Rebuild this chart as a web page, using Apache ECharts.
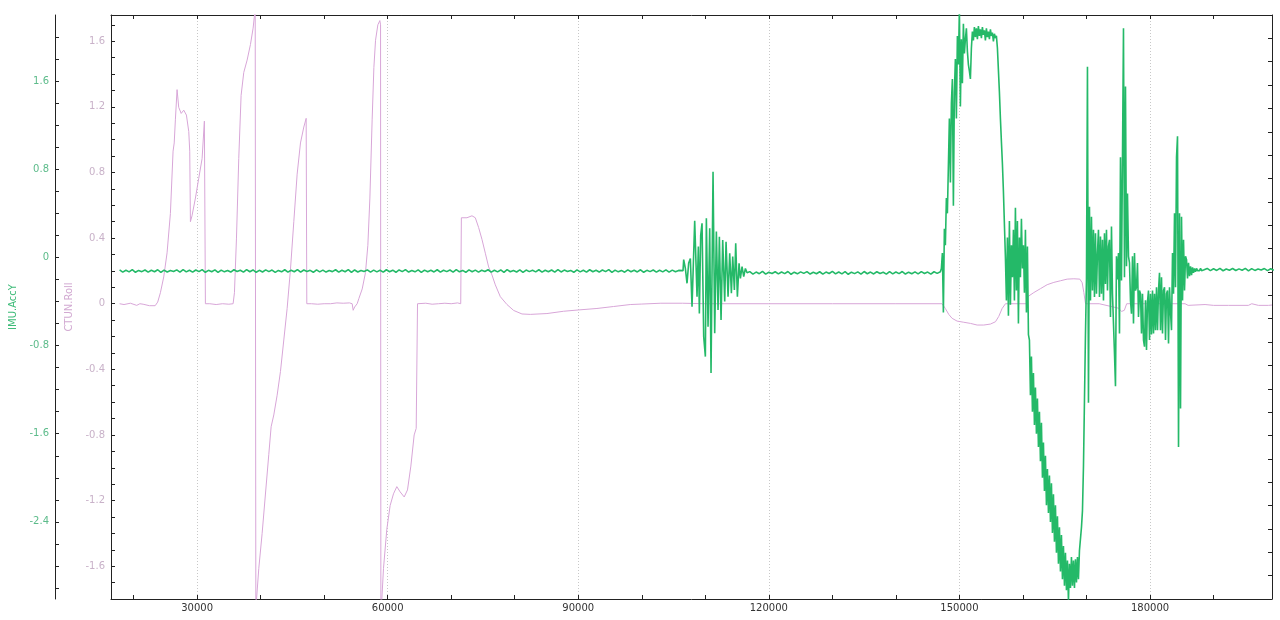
<!DOCTYPE html>
<html>
<head>
<meta charset="utf-8">
<script src="https://cdn.jsdelivr.net/npm/echarts@6/dist/echarts.min.js"></script>
<style>
html,body{margin:0;padding:0;background:#fff;}
#chart{width:1280px;height:620px;}
</style>
</head>
<body>
<div id="chart"></div>
<script>
// ---------- time axis ----------
const timeMin = 16450;
const timeMax = 199200;
const timeLabelEvery = 30000;

// ---------- CTUN.Roll : [time, value] ----------
const rollEarly = [
  [17800,0],[18500,-0.005],[19500,0.003],[20500,-0.01],[21000,0],[21500,-0.003],[22500,-0.012],[23400,-0.012],
  [23800,0.01],[24225,0.067],[24750,0.163],[25275,0.31],[25800,0.55],[26220,0.93],[26400,0.98],[26590,1.125],
  [26850,1.305],[27110,1.197],[27500,1.16],[27900,1.18],[28320,1.15],[28690,1.05],[28845,0.93],[28950,0.5],
  [29200,0.536],[29740,0.644],[30260,0.764],[30790,0.885],[31150,1.113],[31310,0],[32000,0],[33000,-0.005],
  [34000,0],[35000,-0.003],[35670,0],[35880,0.067],[36200,0.4],[36560,0.885],[36930,1.27],[37350,1.41],
  [37875,1.485],[38400,1.58],[38820,1.68],[39150,1.8],[39250,-1.86],[39710,-1.615],[40240,-1.4],[40760,-1.16],
  [41290,-0.918],[41655,-0.75],[42075,-0.678],[42600,-0.558],[43125,-0.413],[43650,-0.221],[44175,-0.029],
  [44700,0.21],[45225,0.5],[45750,0.79],[46275,0.98],[46800,1.077],[47170,1.13],[47270,0]
];
const rollMid = [
  [48000,0],[49000,-0.003],[50000,0],[51000,0],[52000,0.005],[53000,0.003],[54000,0.005],[54410,0],
  [54570,-0.04],[54800,-0.02],[55200,0],[55460,0.031],[55990,0.09],[56510,0.19],[56880,0.356],[57200,0.644],
  [57560,1.125],[57830,1.44],[58090,1.606],[58455,1.7],[58770,1.726],[58880,1.7],[58930,-1.85],[59085,-1.8],
  [59340,-1.615],[59865,-1.375],[60390,-1.23],[60915,-1.159],[61440,-1.115],[61965,-1.147],[62600,-1.178],
  [63120,-1.135],[63650,-0.99],[64170,-0.8],[64490,-0.76],[64700,0],[65000,0],[66000,0.003],[67000,-0.003],
  [68000,0],[69000,0.003],[70000,0],[71000,0.005],[71500,0],[71600,0.524],[72480,0.524],[73270,0.536],
  [73795,0.524],[74320,0.464],[74845,0.392],[75370,0.308],[75895,0.224],[76420,0.175],[76945,0.115],
  [77730,0.043],[78780,-0.005],[79830,-0.041],[81140,-0.0625],[82450,-0.065],[85070,-0.06],[87690,-0.046],
  [90050,-0.038],[92940,-0.029],[95560,-0.017],[98180,-0.005],[100000,-0.002],[103000,0.003],[106400,0.003],
  [106600,0]
];
const rollLate = [
  [110000,0],[120000,0],[130000,0],[140000,0],[147270,0],[147428,0],[147795,-0.03],[148320,-0.065],
  [148845,-0.089],[149633,-0.106],[150683,-0.113],[151733,-0.12],[152783,-0.13],[153833,-0.13],[154883,-0.124],
  [155670,-0.11],[156195,-0.077],[156720,-0.029],[157245,0],[160658,0],[160763,0.043],[161708,0.068],
  [162758,0.092],[163808,0.116],[164858,0.13],[165908,0.14],[166958,0.15],[168008,0.152],[168953,0.15],
  [169320,0.128],[169583,0.068],[169845,0],[172000,0],[175013,-0.027],[175538,-0.047],[175958,-0.04],
  [176325,0],[180000,0],[185513,0],[186000,-0.01],[188663,-0.005],[190000,-0.01],[192338,-0.01],
  [195488,-0.01],[196013,0],[197063,-0.01],[198638,-0.01],[199200,-0.008]
];

// ---------- IMU.AccY ----------
// quiet stretch 1: one sample every 500 ms from accQuiet1Start
const accQuiet1Start = 17800;
const accQuiet1 = [
  -0.113,-0.133,-0.116,-0.131,-0.111,-0.135,-0.118,-0.129,-0.114,-0.134,
  -0.117,-0.130,-0.112,-0.136,-0.115,-0.132,-0.119,-0.128,-0.113,-0.133,
  -0.110,-0.131,-0.116,-0.134,-0.114,-0.129,-0.111,-0.135,-0.117,-0.130,
  -0.113,-0.136,-0.115,-0.131,-0.118,-0.133,-0.112,-0.128,-0.116,-0.134,
  -0.111,-0.130,-0.114,-0.135,-0.117,-0.132,-0.113,-0.129,-0.115,-0.136,
  -0.118,-0.131,-0.112,-0.133,-0.116,-0.130,-0.110,-0.134,-0.114,-0.128,
  -0.117,-0.135,-0.113,-0.131,-0.115,-0.133,-0.119,-0.129,-0.112,-0.134,
  -0.116,-0.130,-0.111,-0.136,-0.114,-0.132,-0.118,-0.128,-0.113,-0.133,
  -0.115,-0.131,-0.117,-0.134,-0.112,-0.130,-0.116,-0.135,-0.114,-0.129,
  -0.111,-0.133,-0.118,-0.131,-0.113,-0.136,-0.115,-0.130,-0.117,-0.132,
  -0.112,-0.134,-0.116,-0.129,-0.114,-0.133,-0.110,-0.131,-0.118,-0.135,
  -0.113,-0.130,-0.115,-0.134,-0.117,-0.128,-0.112,-0.133,-0.116,-0.131,
  -0.114,-0.135,-0.111,-0.130,-0.118,-0.132,-0.113,-0.136,-0.115,-0.129,
  -0.117,-0.131,-0.112,-0.134,-0.116,-0.130,-0.114,-0.133,-0.110,-0.132,
  -0.115,-0.128,-0.118,-0.135,-0.113,-0.131,-0.116,-0.134,-0.112,-0.130,
  -0.117,-0.133,-0.114,-0.129,-0.111,-0.136,-0.115,-0.131,-0.118,-0.134,
  -0.113,-0.130,-0.116,-0.132,-0.112,-0.135,-0.117,-0.129,-0.114,-0.133,
  -0.116,-0.131,-0.113,-0.134,-0.115,-0.130,-0.118
];
// vibration burst: [time, value]
const accBurst1 = [
  [106070,-0.125],[106490,-0.12],[106595,-0.02],[106858,-0.1],[107120,-0.235],[107383,-0.05],[107645,-0.01],
  [107908,-0.447],[108328,0.333],[108695,-0.357],[108905,0.1],[109063,-0.508],[109273,0.2],[109483,0.31],
  [109745,-0.72],[110008,-0.9],[110165,0.355],[110428,-0.629],[110690,0.264],[110900,-1.05],[111215,0.778],
  [111478,-0.689],[111740,0.234],[112003,-0.477],[112213,0.188],[112475,-0.568],[112738,0.158],[113053,-0.4],
  [113263,0.143],[113578,-0.357],[113840,0.037],[114103,-0.326],[114313,0.007],[114575,-0.296],[114785,0.128],
  [115048,-0.357],[115310,-0.054],[115520,-0.19],[115783,-0.084],[116045,-0.175],[116308,-0.1],[116570,-0.14]
];
// quiet stretch 2: one sample every 500 ms
const accQuiet2Start = 117000;
const accQuiet2 = [
  -0.129,-0.151,-0.133,-0.148,-0.127,-0.152,-0.135,-0.146,-0.130,-0.150,
  -0.132,-0.147,-0.128,-0.153,-0.134,-0.149,-0.131,-0.145,-0.129,-0.151,
  -0.135,-0.148,-0.130,-0.152,-0.133,-0.146,-0.127,-0.150,-0.132,-0.149,
  -0.129,-0.153,-0.134,-0.147,-0.131,-0.151,-0.128,-0.148,-0.133,-0.150,
  -0.130,-0.146,-0.135,-0.152,-0.129,-0.149,-0.132,-0.147,-0.128,-0.151,
  -0.134,-0.148,-0.131,-0.150,-0.129,-0.146,-0.133,-0.152,-0.130,-0.145
];
// manoeuvre section, sampled every accManStep ms
const accManStart = 147000;
const accManStep = 157.5;
const accManoeuvre = [
  -0.13,-0.10,0.04,-0.50,0.26,0.11,0.54,0.40,0.83,1.26,
  0.68,1.40,1.62,0.47,1.50,1.80,1.26,2.01,1.75,2.25,
  1.37,1.98,1.58,2.12,1.85,1.98,2.08,1.87,1.75,1.69,
  1.62,1.90,2.05,1.97,2.09,2.00,2.08,1.98,2.10,2.01,
  2.07,1.99,2.09,2.02,2.06,1.97,2.08,2.00,2.05,1.98,
  2.07,2.01,2.04,1.96,2.03,1.99,2.01,1.90,1.70,1.50,
  1.26,1.05,0.85,0.60,0.30,0.00,-0.39,0.18,-0.53,0.33,
  -0.43,0.11,-0.18,0.25,-0.39,0.45,-0.30,0.33,-0.60,0.18,
  -0.18,0.35,-0.10,0.11,-0.32,0.25,-0.50,0.10,-0.70,-0.75,
  -1.25,-0.90,-1.40,-1.05,-1.52,-1.18,-1.60,-1.28,-1.72,-1.40,
  -1.85,-1.50,-2.00,-1.68,-2.12,-1.80,-2.25,-1.92,-2.32,-1.98,
  -2.40,-2.05,-2.50,-2.15,-2.58,-2.25,-2.68,-2.35,-2.78,-2.45,
  -2.85,-2.52,-2.92,-2.62,-2.98,-2.68,-3.02,-2.75,-3.12,-2.78,
  -3.00,-2.72,-2.98,-2.75,-3.00,-2.74,-2.95,-2.72,-2.92,-2.66,
  -2.65,-2.45,-2.30,-1.90,-1.30,-0.70,-0.20,1.73,-1.32,0.46,
  -0.39,0.37,-0.30,0.25,-0.36,0.22,-0.33,0.04,0.25,-0.36,
  0.19,-0.33,0.16,-0.39,0.22,-0.24,0.25,-0.30,0.10,0.16,
  -0.54,0.28,-0.33,-0.60,-0.87,-1.17,0.01,-0.20,0.04,-0.69,
  0.91,-0.21,0.91,2.08,-0.18,1.55,-0.08,0.58,0.01,-0.05,
  -0.39,-0.51,0.01,-0.60,0.04,-0.30,-0.27,-0.05,-0.54,-0.30,
  -0.33,-0.69,-0.33,-0.75,-0.81,-0.39,-0.84,-0.40,-0.30,-0.75,
  -0.33,-0.70,-0.30,-0.69,-0.33,-0.66,-0.27,-0.66,-0.30,-0.14,
  -0.66,-0.18,-0.69,-0.30,-0.27,-0.75,-0.33,-0.30,-0.78,-0.27,
  -0.50,-0.66,0.04,-0.33,0.40,-0.27,0.91,1.10,-1.72,0.40,
  -1.37,0.37,-0.39,0.16,-0.30,0.01,-0.02,-0.19,-0.05,-0.17,
  -0.08,-0.16,-0.09,-0.14,-0.10,-0.13,-0.10,-0.12,-0.11,-0.12,
  -0.10,-0.12,-0.11,-0.115,-0.105
];
// quiet tail: one sample every 500 ms
const accTailStart = 189000;
const accTail = [
  -0.100,-0.120,-0.103,-0.118,-0.099,-0.121,-0.105,-0.116,-0.101,-0.119,
  -0.104,-0.117,-0.100,-0.122,-0.102,-0.118,-0.106,-0.115,-0.101,-0.120,
  -0.103,-0.117
];

// ---------- build series data ----------
function stepped(start, step, vals) { return vals.map((v, i) => [start + i * step, v]); }
const rollData = rollEarly.concat(rollMid, rollLate);
const accData = stepped(accQuiet1Start, 500, accQuiet1)
  .concat(accBurst1, stepped(accQuiet2Start, 500, accQuiet2),
          stepped(accManStart, accManStep, accManoeuvre), stepped(accTailStart, 500, accTail));

const FONT = 'DejaVu Sans';
const PINK = '#d8a6d8';
const GREEN = '#24b968';
const AXIS = '#222';

const chart = echarts.init(document.getElementById('chart'), null, {renderer: 'canvas'});
chart.setOption({
  animation: false,
  backgroundColor: '#fff',
  grid: {left: 111, right: 8, top: 15, bottom: 21, containLabel: false},
  xAxis: [
    { // main bottom axis
      type: 'value', position: 'bottom', min: timeMin, max: timeMax, splitNumber: 18,
      axisLine: {show: true, onZero: false, lineStyle: {color: AXIS, width: 1}},
      axisTick: {show: true, inside: true, length: 4, lineStyle: {color: AXIS}},
      axisLabel: {show: true, margin: 4, color: '#333', fontSize: 10, fontFamily: FONT,
        showMinLabel: false, showMaxLabel: false,
        formatter: v => (Math.round(v) % timeLabelEvery === 0 ? String(Math.round(v)) : '')},
      splitLine: {show: false}
    },
    { // top frame
      type: 'value', position: 'top', min: timeMin, max: timeMax, splitNumber: 18,
      axisLine: {show: true, onZero: false, lineStyle: {color: AXIS, width: 1}},
      axisTick: {show: true, inside: true, length: 4, lineStyle: {color: AXIS}},
      axisLabel: {show: false}, splitLine: {show: false}
    },
    { // grid lines at labelled ticks
      type: 'value', position: 'bottom', min: timeMin, max: timeMax, splitNumber: 6,
      axisLine: {show: false}, axisTick: {show: false}, axisLabel: {show: false},
      splitLine: {show: true, showMinLine: false, showMaxLine: false,
        lineStyle: {color: '#c8c8c8', type: [1, 2], width: 1}}
    }
  ],
  yAxis: [
    { // CTUN.Roll
      type: 'value', position: 'left', offset: 0, min: -1.8, max: 1.76, interval: 0.1,
      name: 'CTUN.Roll', nameLocation: 'middle', nameRotate: 90, nameGap: 36,
      nameTextStyle: {color: '#d2aad2', fontSize: 10, fontFamily: FONT},
      axisLine: {show: true, onZero: false, lineStyle: {color: AXIS, width: 1}},
      axisTick: {show: true, inside: true, length: 4, lineStyle: {color: AXIS}},
      axisLabel: {show: true, margin: 6, color: '#c9b2c9', fontSize: 10, fontFamily: FONT,
        formatter: v => { const k = Math.round(v * 10); return (k % 4 === 0) ? String(k / 10) : ''; }},
      splitLine: {show: false}
    },
    { // IMU.AccY
      type: 'value', position: 'left', offset: 56, min: -3.1, max: 2.2, splitNumber: 26,
      name: 'IMU.AccY', nameLocation: 'middle', nameRotate: 90, nameGap: 36,
      nameTextStyle: {color: '#3dbb78', fontSize: 10, fontFamily: FONT},
      axisLine: {show: true, onZero: false, lineStyle: {color: AXIS, width: 1}},
      axisTick: {show: true, inside: true, length: 4, lineStyle: {color: AXIS}},
      axisLabel: {show: true, margin: 6, color: '#5cbb8a', fontSize: 10, fontFamily: FONT,
        showMinLabel: false, showMaxLabel: false,
        formatter: v => { const k = Math.round(v * 10); return (k % 8 === 0) ? String(k / 10) : ''; }},
      splitLine: {show: false}
    },
    { // right frame
      type: 'value', position: 'right', min: 0, max: 25, interval: 1,
      axisLine: {show: true, onZero: false, lineStyle: {color: AXIS, width: 1}},
      axisTick: {show: true, inside: true, length: 4, lineStyle: {color: AXIS}},
      axisLabel: {show: false}, splitLine: {show: false}
    }
  ],
  series: [
    {
      name: 'CTUN.Roll', type: 'line', xAxisIndex: 0, yAxisIndex: 0,
      data: rollData, showSymbol: false, symbol: 'none', clip: true,
      lineStyle: {color: PINK, width: 1}, silent: true
    },
    {
      name: 'IMU.AccY', type: 'line', xAxisIndex: 0, yAxisIndex: 1,
      data: accData, showSymbol: false, symbol: 'none', clip: true, sampling: null,
      lineStyle: {color: GREEN, width: 1.6}, silent: true
    }
  ]
});
</script>
</body>
</html>
